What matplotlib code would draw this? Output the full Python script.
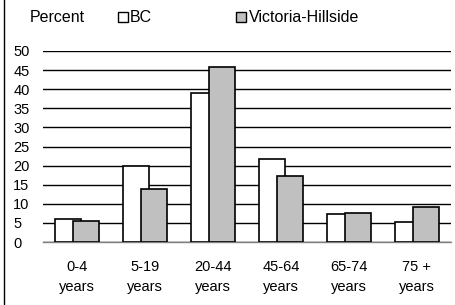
import matplotlib.pyplot as plt
import numpy as np
from matplotlib.lines import Line2D
from matplotlib.patches import Rectangle

categories = ['0-4\nyears', '5-19\nyears', '20-44\nyears', '45-64\nyears', '65-74\nyears', '75 +\nyears']
bc = [6.0, 19.8, 39.1, 21.7, 7.2, 5.3]
victoria = [5.4, 13.9, 45.7, 17.2, 7.6, 9.2]

plt.rcParams['font.family'] = ['Liberation Sans', 'DejaVu Sans']

fig = plt.figure(figsize=(4.55, 3.05), dpi=100)
ax = fig.add_axes([43 / 455, 1 - 242 / 305, (451 - 43) / 455, (242 - 51) / 305])

x = np.arange(len(categories))
w = 0.38
off = 0.13
ax.bar(x - off, bc, width=w, color='white', edgecolor='black', linewidth=1.2, zorder=3)
ax.bar(x + off, victoria, width=w, color='#c0c0c0', edgecolor='black', linewidth=1.2, zorder=4)

ax.set_xlim(-0.5, len(categories) - 0.5)
ax.set_ylim(0, 50)
ax.set_yticks(range(0, 51, 5))
ax.set_xticks(x)
ax.set_xticklabels(categories, fontsize=10.5, linespacing=1.5)
ax.tick_params(axis='y', labelsize=10.5, length=0, pad=21.5)
ax.tick_params(axis='x', length=0, pad=13)
for lab in ax.get_yticklabels():
    lab.set_horizontalalignment('left')

ax.grid(axis='y', color='black', linewidth=1.0, zorder=0)
for s in ['left', 'right', 'top']:
    ax.spines[s].set_visible(False)
ax.spines['bottom'].set_color('#808080')
ax.spines['bottom'].set_linewidth(1.0)

# legend-like header
fig.text(30 / 455, 1 - 18 / 305, 'Percent', fontsize=11.5, va='center')
fig.patches.append(Rectangle((118 / 455, 1 - 22 / 305), 10 / 455, 10 / 305, transform=fig.transFigure,
                             facecolor='white', edgecolor='black', linewidth=1.0))
fig.text(130 / 455, 1 - 17 / 305, 'BC', fontsize=11.5, va='center')
fig.patches.append(Rectangle((236 / 455, 1 - 22 / 305), 10 / 455, 10 / 305, transform=fig.transFigure,
                             facecolor='#c0c0c0', edgecolor='black', linewidth=1.0))
fig.text(249 / 455, 1 - 17 / 305, 'Victoria-Hillside', fontsize=11.5, va='center')

# left edge line of the original frame
fig.lines.append(Line2D([3.5 / 455, 3.5 / 455], [0, 1], transform=fig.transFigure,
                        color='black', linewidth=1.0))

fig.savefig('out.png', dpi=100)
